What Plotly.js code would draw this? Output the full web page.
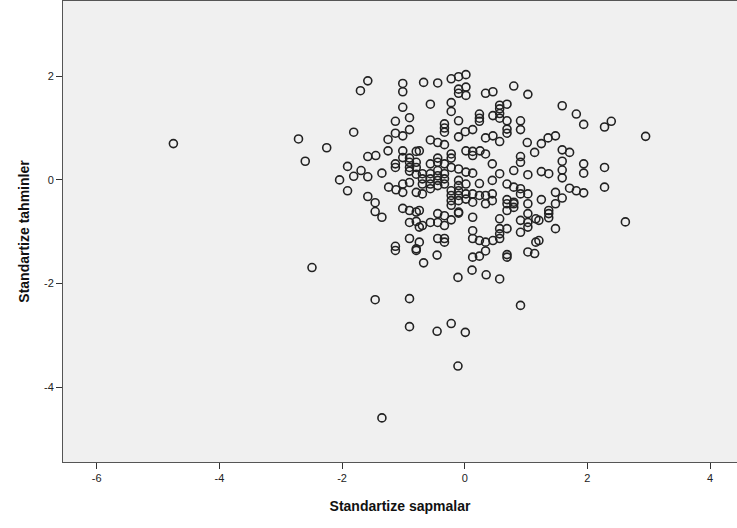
<!DOCTYPE html>
<html>
<head>
<meta charset="utf-8">
<script src="https://cdn.plot.ly/plotly-3.0.1.min.js"></script>
<style>html,body{margin:0;padding:0;background:#fff;}#chart{width:737px;height:528px;}</style>
</head>
<body>
<div id="chart"></div>
<script>
// Standardized residuals (x) and standardized predicted values (y)
const residuals = [
-4.75,-2.71,-2.60,-2.25,-2.49,-1.46,-1.35,-0.90,-0.90,-0.45,-0.22,0.01,-0.11,0.91,-0.11,0.12,0.35,0.57,-0.67,-0.45,
-0.79,0.24,0.34,0.69,0.69,1.03,1.14,-1.13,2.62,2.95,
1.59,1.82,1.94,2.28,2.39,1.48,1.36,1.25,1.59,1.71,1.59,1.94,2.28,1.59,1.94,1.59,1.25,1.37,1.71,1.82,
1.94,2.28,1.48,1.59,1.25,1.48,1.37,1.37,1.37,1.48,1.21,1.21,
-0.67,-0.44,-0.22,-0.10,0.02,-0.10,-0.10,0.02,0.02,0.34,0.46,0.80,1.03,-0.56,-0.22,-0.22,0.24,0.24,0.24,0.57,
0.57,0.57,0.69,0.46,0.57,0.69,0.91,0.91,0.69,0.69,-0.10,-0.33,-0.33,-0.33,0.13,0.01,-0.10,0.34,0.46,0.57,
-0.56,-0.44,-0.33,1.02,1.14,0.91,0.02,0.13,0.13,0.25,0.34,-0.22,-0.22,-0.44,-0.74,
-1.58,-1.70,-1.01,-1.01,-1.01,-0.90,-1.13,-0.90,-1.13,-1.01,-1.25,-1.81,-1.25,-1.01,-0.79,-1.58,-1.45,-1.01,-0.90,
-1.91,-1.81,-1.69,-1.58,-1.35,-2.04,-1.91,-1.58,-1.46,-1.46,-1.35,-1.24,-1.12,-1.01,-1.01,-0.90,-0.79,-1.13,-1.13,-0.90,
-0.90,-0.90,-0.79,-0.79,-0.79,-1.01,-0.90,-0.79,-0.90,-0.79,-0.90,-1.13,-0.79,
-0.69,-0.69,-0.69,-0.69,-0.56,-0.56,-0.56,-0.56,-0.56,-0.44,-0.44,-0.44,-0.44,-0.44,-0.33,-0.33,-0.33,-0.33,-0.22,-0.22,
-0.22,-0.22,-0.22,-0.10,-0.10,-0.10,-0.10,-0.10,-0.10,-0.10,0.02,0.02,0.02,0.02,0.13,0.13,0.13,0.24,0.24,0.34,
0.34,0.45,0.45,0.45,0.45,0.57,0.69,0.69,0.69,0.80,0.80,0.80,0.91,0.91,0.91,1.03,1.03,1.03,
-0.74,-0.74,-0.74,-0.69,-0.56,-0.44,-0.44,-0.44,-0.33,-0.33,-0.33,-0.33,-0.22,-0.10,0.13,0.13,0.13,0.24,0.34,0.46,
0.57,0.57,0.57,0.57,0.69,0.69,0.80,0.80,0.91,0.91,1.03,1.03,1.03,1.16,1.16,0.13
];
const predicted = [
0.70,0.79,0.36,0.62,-1.69,-2.31,-4.59,-2.29,-2.83,-2.92,-2.77,-2.94,-3.59,-2.42,-1.88,-1.74,-1.83,-1.91,-1.60,-1.45,
-1.36,-1.47,-1.37,-1.44,-1.49,-1.39,-1.42,-1.36,-0.81,0.84,
1.43,1.27,1.07,1.02,1.13,0.85,0.81,0.70,0.58,0.53,0.36,0.31,0.24,0.19,0.13,0.04,0.16,0.12,-0.16,-0.21,
-0.25,-0.14,-0.24,-0.35,-0.38,-0.46,-0.59,-0.65,-0.73,-0.94,-0.78,-1.17,
1.88,1.87,1.95,1.99,2.03,1.75,1.67,1.79,1.63,1.67,1.70,1.81,1.65,1.46,1.49,1.32,1.27,1.19,1.13,1.44,
1.37,1.28,1.46,1.24,1.19,1.14,1.14,0.97,0.98,0.90,1.14,1.08,1.00,0.92,0.97,0.93,0.83,0.81,0.85,0.74,
0.77,0.72,0.68,0.72,0.53,0.45,0.56,0.55,0.47,0.56,0.50,0.50,0.42,0.42,0.56,
1.91,1.72,1.86,1.70,1.40,1.20,1.13,0.97,0.90,0.85,0.78,0.92,0.56,0.56,0.55,0.45,0.47,0.43,0.42,
0.26,0.07,0.18,0.06,0.13,0.00,-0.21,-0.32,-0.44,-0.61,-0.72,-0.14,-0.19,-0.08,-0.24,-0.05,-0.24,0.31,0.24,0.34,
0.24,0.17,0.34,0.24,0.11,-0.55,-0.59,-0.62,-0.82,-0.80,-1.13,-1.28,-1.33,
0.12,0.02,-0.08,-0.27,0.31,0.12,0.02,-0.08,-0.17,0.34,0.18,0.08,-0.01,-0.11,0.31,0.12,0.02,-0.08,0.24,-0.21,
-0.30,-0.40,-0.49,0.21,-0.01,-0.11,-0.21,-0.30,-0.40,-0.62,0.15,-0.08,-0.27,-0.37,0.13,-0.27,-0.43,-0.07,-0.30,-0.30,
-0.46,0.31,-0.01,-0.27,-0.40,0.12,-0.08,-0.38,-0.46,0.18,-0.14,-0.46,0.34,-0.17,-0.27,0.10,-0.27,-0.46,
-0.59,-0.91,-1.20,-0.88,-0.82,-0.65,-0.82,-1.13,-0.69,-0.88,-1.13,-1.20,-0.77,-0.64,-0.72,-0.98,-1.13,-1.17,-1.20,-1.17,
-0.75,-0.94,-1.04,-1.13,-0.59,-0.94,-0.43,-0.53,-0.78,-1.01,-0.65,-0.82,-0.91,-1.20,-0.75,-1.49
];
const xTicks = [-6,-4,-2,0,2,4];
const yTicks = [-4,-2,0,2];
const xTitle = 'Standartize sapmalar';
const yTitle = 'Standartize tahminler';

const trace = {
  type: 'scatter', mode: 'markers',
  x: residuals, y: predicted,
  marker: {symbol: 'circle-open', size: 8, color: '#222222', line: {width: 1.6}},
  hoverinfo: 'x+y'
};
const axisFont = {family: 'Liberation Sans, Arial, sans-serif', size: 11, color: '#222'};
const titleFont = {family: 'Liberation Sans, Arial, sans-serif', size: 14, color: '#111', weight: 'bold'};
const layout = {
  width: 737, height: 528,
  margin: {l: 63, r: 0, t: 1, b: 66},
  paper_bgcolor: '#ffffff', plot_bgcolor: '#f0f0f0',
  showlegend: false,
  xaxis: {
    range: [-6.55, 4.44], tickvals: xTicks, ticktext: xTicks.map(String),
    ticks: 'outside', ticklen: 6, tickcolor: '#333', tickwidth: 1,
    showgrid: false, zeroline: false, showline: true, linecolor: '#555', linewidth: 1, mirror: true,
    tickfont: axisFont,
    title: {text: xTitle, font: titleFont, standoff: 17}
  },
  yaxis: {
    range: [-5.44, 3.45], tickvals: yTicks, ticktext: yTicks.map(String),
    ticks: 'outside', ticklen: 6, tickcolor: '#333', tickwidth: 1,
    showgrid: false, zeroline: false, showline: true, linecolor: '#555', linewidth: 1, mirror: false,
    tickfont: axisFont,
    title: {text: yTitle, font: titleFont, standoff: 11}
  }
};
Plotly.newPlot('chart', [trace], layout, {displayModeBar: false, staticPlot: true});
</script>
</body>
</html>
